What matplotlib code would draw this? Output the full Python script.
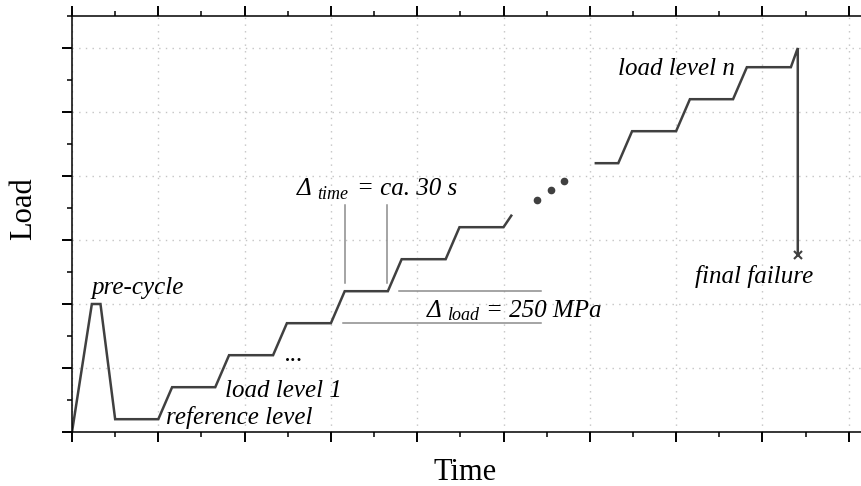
import numpy as np
import matplotlib
matplotlib.use("Agg")
import matplotlib.pyplot as plt
from matplotlib.ticker import MultipleLocator

plt.rcParams['font.family'] = ['Liberation Serif', 'DejaVu Serif']

# load history, before the gap in the plot
time_a = [0, 0.23, 0.33, 0.5, 1.0, 1.16, 1.66, 1.82, 2.33, 2.49, 3.0, 3.16,
          3.66, 3.82, 4.33, 4.49, 5.0, 5.09]
load_a = [0, 2.0, 2.0, 0.2, 0.2, 0.7, 0.7, 1.2, 1.2, 1.7, 1.7, 2.2,
          2.2, 2.7, 2.7, 3.2, 3.2, 3.38]
# load history up to failure
time_b = [6.07, 6.33, 6.49, 7.0, 7.16, 7.66, 7.82, 8.33, 8.41, 8.41]
load_b = [4.2, 4.2, 4.7, 4.7, 5.2, 5.2, 5.7, 5.7, 6.0, 2.77]
# "..." dots in the gap
dots_t = [5.39, 5.55, 5.70]
dots_l = [3.63, 3.78, 3.92]
# helper lines for the step sizes
dt_marks = [3.16, 3.65]
dt_span = (2.33, 3.55)
dl_levels = [2.2, 1.7]
dl_starts = [3.79, 3.14]
dl_end = 5.43

line_c = '#404040'
help_c = '#8c8c8c'

fig = plt.figure(figsize=(8.61, 4.86), dpi=100)
ax = fig.add_axes([72/861, 54/486, 789/861, 416/486])
ax.set_xlim(0, 789/86.3)
ax.set_ylim(0, 6.5)

ax.plot(time_a, load_a, color=line_c, lw=1.8, solid_joinstyle='miter')
ax.plot(time_b, load_b, color=line_c, lw=1.8, solid_joinstyle='miter')
ax.plot(time_b[-1], load_b[-1], 'x', color=line_c, ms=6, mew=1.5)
ax.plot(dots_t, dots_l, 'o', color=line_c, ms=4.5)

for t in dt_marks:
    ax.plot([t, t], dt_span, color=help_c, lw=1.1)
for lv, t0 in zip(dl_levels, dl_starts):
    ax.plot([t0, dl_end], [lv, lv], color=help_c, lw=1.1)

it = dict(fontsize=18, style='italic', va='baseline', ha='left')
sub = dict(fontsize=13, style='italic', va='baseline', ha='left')
ax.text(0.23, 2.16, 'pre-cycle', **it)
ax.text(1.09, 0.125, 'reference level', **it)
ax.text(1.77, 0.55, 'load level 1', **it)
ax.text(2.47, 1.11, '...', **it)
ax.text(6.33, 5.58, 'load level n', **it)
ax.text(7.22, 2.33, 'final failure', **it)

ax.text(2.61, 3.70, '\u0394', **it)
ax.text(2.84, 3.64, 'time', **sub)
ax.text(3.30, 3.70, '= ca. 30 s', **it)

ax.text(4.11, 1.80, '\u0394', **it)
ax.text(4.35, 1.75, 'load', **sub)
ax.text(4.80, 1.80, '= 250 MPa', **it)

fig.text(24/861, 1 - 209/486, 'Load', fontsize=22, rotation=90,
         ha='center', va='center')
fig.text(465/861, 1 - 480/486, 'Time', fontsize=22, ha='center',
         va='baseline')

ax.xaxis.set_major_locator(MultipleLocator(1))
ax.xaxis.set_minor_locator(MultipleLocator(0.5))
ax.yaxis.set_major_locator(MultipleLocator(1))
ax.yaxis.set_minor_locator(MultipleLocator(0.5))
ax.tick_params(which='both', direction='out', top=True, bottom=True,
               left=True, right=False, labelbottom=False, labelleft=False)
ax.tick_params(which='major', length=7.5, width=1.4)
ax.tick_params(which='minor', length=3.5, width=1.1)
ax.spines['right'].set_visible(False)
for s in ('left', 'bottom', 'top'):
    ax.spines[s].set_linewidth(1.1)
ax.grid(which='major', color='#c4c4c4', lw=1, linestyle=(0, (1, 3.8)))
ax.set_axisbelow(True)

fig.savefig('out.png', dpi=100)
